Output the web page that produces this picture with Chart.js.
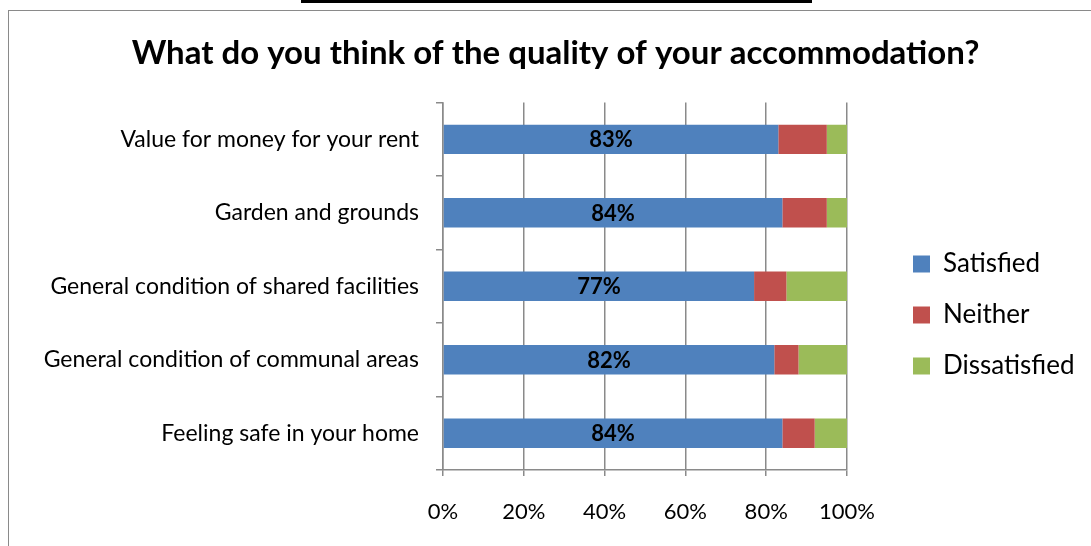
<!DOCTYPE html>
<html>
<head>
<meta charset="utf-8">
<script src="https://cdn.jsdelivr.net/npm/chart.js@4"></script>
<style>
  html, body { margin: 0; padding: 0; background: #fff; }
  #wrap { position: relative; width: 1091px; height: 546px; overflow: hidden; }
  #topbar { position: absolute; left: 301px; top: 0; width: 511px; height: 3px; background: #000; }
  #frame { position: absolute; left: 8px; top: 10px; right: -10px; bottom: -10px; border-left: 1.5px solid #8a8a8a; border-top: 1.5px solid #8a8a8a; }
  canvas { position: absolute; left: 0; top: 0; }
</style>
</head>
<body>
<div id="wrap">
  <div id="topbar"></div>
  <div id="frame"></div>
  <canvas id="qualityChart" width="1091" height="546"></canvas>
</div>
<script>
// survey data (percent of respondents)
const categories = [
    'Value for money for your rent',
    'Garden and grounds',
    'General condition of shared facilities',
    'General condition of communal areas',
    'Feeling safe in your home'
];
const satisfied = [83, 84, 77, 82, 84];
const neither = [12, 11, 8, 6, 8];
const dissatisfied = [5, 5, 15, 12, 8];
const xTicks = [0, 20, 40, 60, 80, 100];

const gridColor = '#8a8a8a';
const fontFamily = 'Lato, "Open Sans", sans-serif';

// fix the legend width so the plot ends where the reference does
const legendGap = {
    id: 'legendGap',
    beforeInit(chart) {
        const fit = chart.legend.fit;
        chart.legend.fit = function () {
            fit.bind(chart.legend)();
            this.width = 1091 - 847;
        };
    },
    afterLayout(chart) {
        const lg = chart.legend;
        lg.left += 41;
        lg.right += 41;
        lg.top = 105;
        lg.bottom = 525;
        // title sits a little right of the canvas centre in the original
        chart.titleBlock.left += 10;
        chart.titleBlock.right += 10;
    }
};

// bold value label in the middle of the blue segment
const valueLabels = {
    id: 'valueLabels',
    afterDatasetsDraw(chart) {
        const c = chart.ctx;
        const meta = chart.getDatasetMeta(0);
        c.save();
        c.font = 'bold 22px ' + fontFamily;
        c.fillStyle = '#000';
        c.textAlign = 'center';
        c.textBaseline = 'middle';
        meta.data.forEach((bar, i) => {
            const p = bar.getProps(['x', 'y', 'base'], true);
            c.fillText(satisfied[i] + '%', (p.x + p.base) / 2, p.y + 1);
        });
        c.restore();
    }
};

const ctx = document.getElementById('qualityChart').getContext('2d');

const qualityChart = new Chart(ctx, {
    type: 'bar',
    data: {
        labels: categories,
        datasets: [
            { label: 'Satisfied', data: satisfied, backgroundColor: '#4f81bd' },
            { label: 'Neither', data: neither, backgroundColor: '#c0504d' },
            { label: 'Dissatisfied', data: dissatisfied, backgroundColor: '#9bbb59' }
        ]
    },
    options: {
        indexAxis: 'y',
        responsive: false,
        animation: false,
        events: [],
        datasets: {
            bar: { categoryPercentage: 1, barPercentage: 0.4, borderWidth: 0 }
        },
        layout: { padding: 0 },
        scales: {
            x: {
                stacked: true,
                min: 0,
                max: 100,
                afterBuildTicks(scale) {
                    scale.ticks = xTicks.map(v => ({ value: v }));
                },
                afterFit(scale) { scale.height = 546 - 470; },
                grid: { color: gridColor, lineWidth: 1.5, tickLength: 6 },
                border: { color: gridColor, width: 1.5 },
                ticks: {
                    color: '#000',
                    padding: 23,
                    font: { family: fontFamily, size: 22 },
                    maxRotation: 0,
                    callback: v => v + '%'
                }
            },
            y: {
                stacked: true,
                afterFit(scale) { scale.width = 443; },
                grid: { drawOnChartArea: false, color: gridColor, lineWidth: 1.5, tickLength: 7, offset: true },
                border: { color: gridColor, width: 1.5 },
                ticks: {
                    color: '#000',
                    padding: 17,
                    font: { family: fontFamily, size: 23 }
                }
            }
        },
        plugins: {
            title: {
                display: true,
                text: 'What do you think of the quality of your accommodation?',
                color: '#000',
                font: { family: fontFamily, size: 33, weight: 'bold' },
                padding: { top: 34, bottom: 29 }
            },
            legend: {
                position: 'right',
                labels: {
                    color: '#000',
                    boxWidth: 17,
                    boxHeight: 17,
                    padding: 25,
                    font: { family: fontFamily, size: 26 }
                }
            },
            tooltip: { enabled: false }
        }
    },
    plugins: [legendGap, valueLabels]
});
</script>
</body>
</html>
